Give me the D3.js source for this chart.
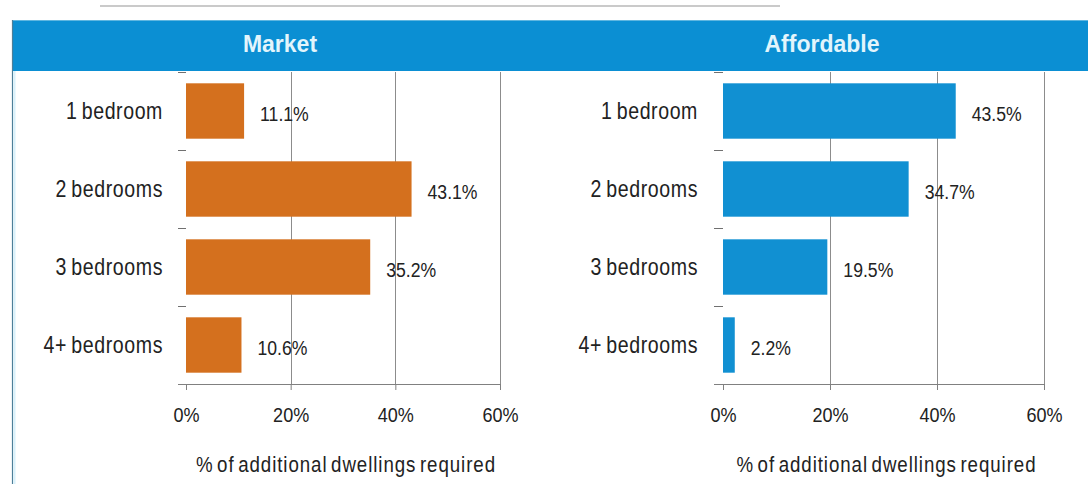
<!DOCTYPE html>
<html><head><meta charset="utf-8">
<script src="https://cdn.jsdelivr.net/npm/d3@7"></script>
<style>
html,body{margin:0;padding:0;background:#fff;}
svg{display:block;}
</style></head>
<body>
<svg id="chart" width="1088" height="484"></svg>
<script>
const categories = ["1 bedroom", "2 bedrooms", "3 bedrooms", "4+ bedrooms"];
const marketValues = [11.1, 43.1, 35.2, 10.6];
const affordableValues = [43.5, 34.7, 19.5, 2.2];
const panelTitles = ["Market", "Affordable"];
const tickValues = [0, 20, 40, 60];
const axisTitle = "% of additional dwellings required";

const svg = d3.select("#chart");
const W = 1088, H = 484;
const FONT = "Liberation Sans, Arial, sans-serif";

// faint cut-off title remnant at the top
svg.append("line").attr("x1", 100).attr("x2", 780).attr("y1", 6).attr("y2", 6)
  .attr("stroke", "#b8b8b8").attr("stroke-width", 1.5);

// header band
svg.append("rect").attr("x", 12).attr("y", 20).attr("width", W - 12).attr("height", 51)
  .attr("fill", "#0b8fd3");
svg.append("line").attr("x1", 12).attr("x2", W).attr("y1", 20.5).attr("y2", 20.5)
  .attr("stroke", "#5fb6e0").attr("stroke-width", 1);
// left border
svg.append("line").attr("x1", 12.5).attr("x2", 12.5).attr("y1", 20).attr("y2", H)
  .attr("stroke", "#4d7f99").attr("stroke-width", 1.2);
svg.append("line").attr("x1", 14.5).attr("x2", 14.5).attr("y1", 71).attr("y2", H)
  .attr("stroke", "#d8f1fb").attr("stroke-width", 2);

const panels = [
  {title: panelTitles[0], values: marketValues, color: "#d4701e", x0: 186, x60: 500, axisStart: 178, labelX: 163, titleX: 280},
  {title: panelTitles[1], values: affordableValues, color: "#1190d2", x0: 723, x60: 1044, axisStart: 714, labelX: 698, titleX: 822}
];

const yTop = 72, yBottom = 384;
const y = d3.scaleBand().domain(categories).range([yTop, yBottom]).paddingInner(0.29).paddingOuter(0.145);

panels.forEach(p => {
  const g = svg.append("g");
  const x = d3.scaleLinear().domain([0, 60]).range([p.x0, p.x60]);

  // header title
  g.append("text").attr("x", p.titleX).attr("y", 44).attr("text-anchor", "middle")
    .attr("dominant-baseline", "central")
    .attr("font-family", FONT).attr("font-weight", "bold")
    .attr("font-size", 23).attr("fill", "#e2f5fc").text(p.title);

  // gridlines
  g.selectAll(".grid").data(tickValues.filter(t => t > 0)).enter().append("line")
    .attr("x1", d => Math.round(x(d)) + 0.5).attr("x2", d => Math.round(x(d)) + 0.5)
    .attr("y1", yTop).attr("y2", yBottom)
    .attr("stroke", "#8c8c8c").attr("stroke-width", 1);

  // category dashes at band boundaries
  const step = y.step();
  const bounds = categories.map((c, i) => y(c) - y.paddingInner() * step / 2);
  g.selectAll(".cdash").data(bounds).enter().append("line")
    .attr("x1", p.axisStart).attr("x2", p.x0).attr("y1", d => Math.round(d) + 0.5).attr("y2", d => Math.round(d) + 0.5)
    .attr("stroke", "#707070").attr("stroke-width", 1);

  // bars
  g.selectAll(".bar").data(categories).enter().append("rect")
    .attr("x", x(0)).attr("y", d => y(d))
    .attr("width", (d, i) => x(p.values[i]) - x(0))
    .attr("height", y.bandwidth())
    .attr("fill", p.color);

  // value labels
  g.selectAll(".val").data(categories).enter().append("text")
    .attr("transform", (d, i) => `translate(${x(p.values[i]) + 16},${y(d) + y.bandwidth() / 2 + 2}) scale(0.84,1)`)
    .attr("dominant-baseline", "central")
    .attr("font-family", FONT)
    .attr("font-size", 21).attr("fill", "#222")
    .text((d, i) => p.values[i].toFixed(1) + "%");

  // category labels
  g.selectAll(".cat").data(categories).enter().append("text")
    .attr("transform", d => `translate(${p.labelX},${y(d) + y.bandwidth() / 2}) scale(0.85,1)`)
    .attr("text-anchor", "end").attr("dominant-baseline", "central")
    .attr("font-family", FONT)
    .attr("font-size", 23).attr("fill", "#222").attr("letter-spacing", "0.7").attr("word-spacing", "-2")
    .text(d => d);

  // x axis
  const axis = d3.axisBottom(x).tickValues(tickValues).tickSize(6).tickSizeOuter(0)
    .tickFormat(d => d + "%");
  const ag = g.append("g").attr("transform", `translate(0,${yBottom})`).call(axis);
  ag.select(".domain").attr("d", `M${p.axisStart},0.5H${p.x60}`).attr("stroke", "#808080");
  ag.selectAll(".tick line").attr("stroke", "#808080");
  ag.selectAll(".tick text").attr("y", 0).attr("dy", null)
    .attr("transform", "translate(0,30) scale(0.86,1)")
    .attr("dominant-baseline", "central")
    .attr("font-family", FONT)
    .attr("font-size", 21).attr("fill", "#222");

  // axis title
  g.append("text")
    .attr("transform", `translate(${(p.x0 + p.x60) / 2 + 3},464) scale(0.85,1)`)
    .attr("text-anchor", "middle").attr("dominant-baseline", "central")
    .attr("font-family", FONT)
    .attr("font-size", 22).attr("fill", "#222").attr("letter-spacing", "1.1").attr("word-spacing", "-3")
    .text(axisTitle);
});
</script>
</body></html>
